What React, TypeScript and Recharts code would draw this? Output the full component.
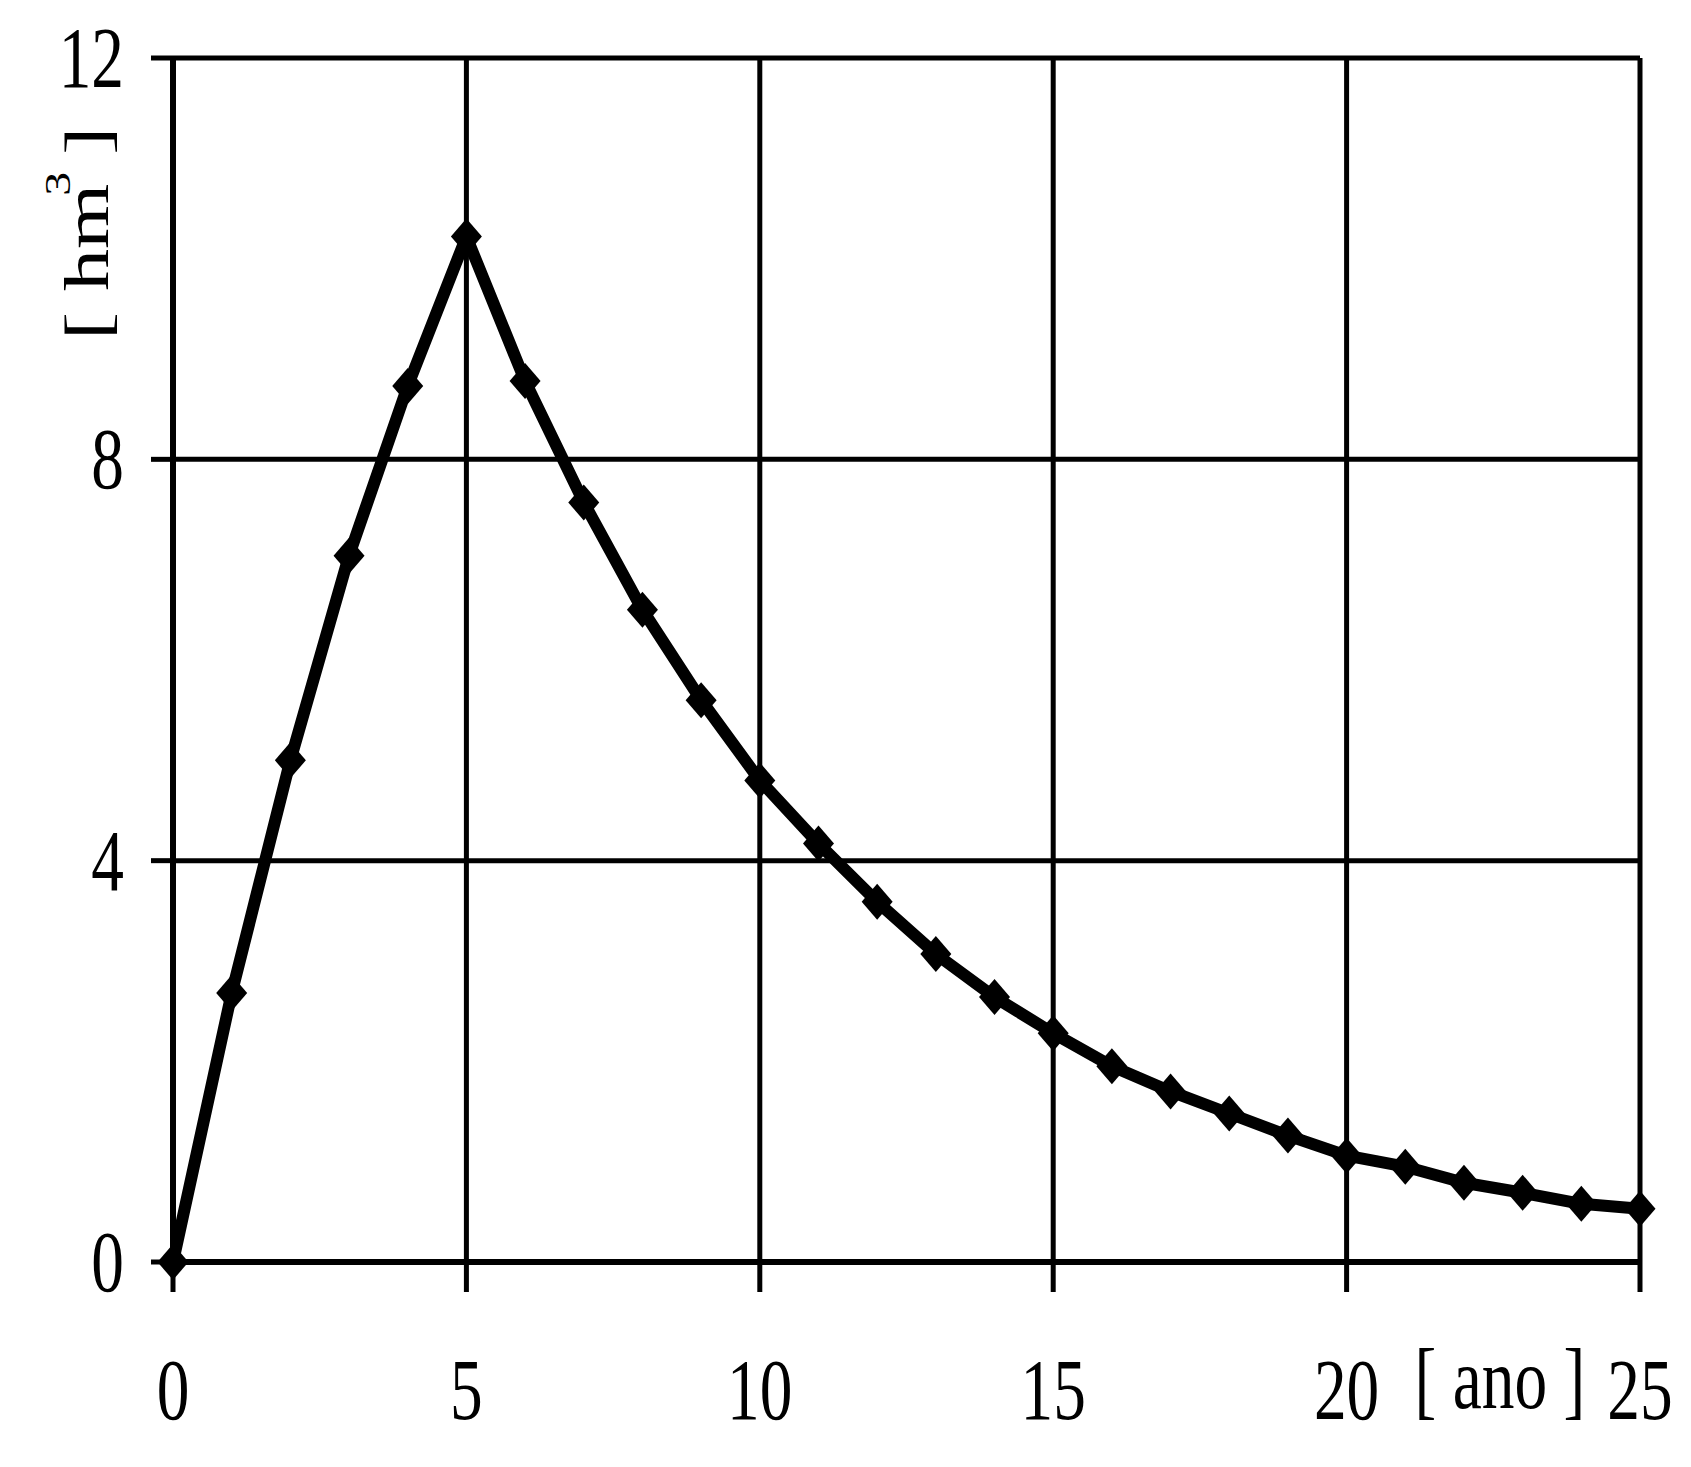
import { CartesianGrid, Line, LineChart, XAxis, YAxis } from 'recharts'

const years = [0, 1, 2, 3, 4, 5, 6, 7, 8, 9, 10, 11, 12, 13, 14, 15, 16, 17, 18, 19, 20, 21, 22, 23, 24, 25]
const volumes = [0, 2.68, 5.0, 7.04, 8.73, 10.22, 8.78, 7.57, 6.5, 5.6, 4.8, 4.17, 3.59, 3.07, 2.64, 2.28, 1.95, 1.7, 1.48, 1.26, 1.06, 0.95, 0.79, 0.69, 0.58, 0.53]
const xTicks = [0, 5, 10, 15, 20, 25]
const yTicks = [0, 4, 8, 12]

const data = years.map((year, i) => ({ year, volume: volumes[i] }))

const FONT = '"Liberation Serif", "Times New Roman", serif'
const SQUISH = 0.76

function XTick({ x, y, payload }: any) {
  return (
    <text transform={`translate(${x},${y + 127}) scale(${SQUISH},1)`} textAnchor="middle" fontFamily={FONT} fontSize={86} fill="#000">
      {payload.value}
    </text>
  )
}

function YTick({ x, y, payload }: any) {
  return (
    <text transform={`translate(${x - 27},${y + 29}) scale(${SQUISH},1)`} textAnchor="end" fontFamily={FONT} fontSize={86} fill="#000">
      {payload.value}
    </text>
  )
}

function XTitle({ viewBox }: any) {
  const cx = viewBox.x + viewBox.width * 0.9045
  return (
    <text transform={`translate(${cx},${viewBox.y + 146}) scale(${SQUISH},1)`} textAnchor="middle" fontFamily={FONT} fontSize={86} fill="#000">
      [ ano ]
    </text>
  )
}

function YTitle({ viewBox }: any) {
  const bx = viewBox.x + viewBox.width - 64.7
  const by = viewBox.y + 282
  return (
    <text transform={`translate(${bx},${by}) scale(${SQUISH},1) rotate(-90)`} fontFamily={FONT} fontSize={84} fill="#000">
      [ hm
      <tspan fontSize={48} dy={-50} dx={-12}>3</tspan>
      <tspan dy={50} dx={-4}> ]</tspan>
    </text>
  )
}

function Diamond({ cx, cy, index }: any) {
  return <path key={index} d={`M${cx},${cy - 18} L${cx + 15.5},${cy} L${cx},${cy + 18} L${cx - 15.5},${cy} Z`} fill="#000" />
}

export default function App() {
  return (
    <div style={{ position: 'absolute', left: 0, top: 0, background: '#fff' }}>
      <LineChart width={1691} height={1467} data={data} margin={{ top: 58, right: 51, bottom: 0, left: 53 }}>
        <CartesianGrid stroke="#000" strokeWidth={5} />
        <XAxis
          type="number"
          dataKey="year"
          domain={[0, 25]}
          ticks={xTicks}
          interval={0}
          height={205}
          tickSize={30}
          tickMargin={0}
          axisLine={{ stroke: '#000', strokeWidth: 6 }}
          tickLine={{ stroke: '#000', strokeWidth: 5 }}
          tick={<XTick />}
          label={{ content: (p: any) => <XTitle {...p} /> }}
        />
        <YAxis
          type="number"
          domain={[0, 12]}
          ticks={yTicks}
          interval={0}
          width={120}
          tickSize={22}
          tickMargin={0}
          axisLine={{ stroke: '#000', strokeWidth: 6 }}
          tickLine={{ stroke: '#000', strokeWidth: 5 }}
          tick={<YTick />}
          label={{ content: (p: any) => <YTitle {...p} /> }}
        />
        <Line
          type="linear"
          dataKey="volume"
          stroke="#000"
          strokeWidth={12}
          strokeLinejoin="round"
          dot={(p: any) => <Diamond key={p.index} {...p} />}
          activeDot={false}
          isAnimationActive={false}
        />
      </LineChart>
    </div>
  )
}
